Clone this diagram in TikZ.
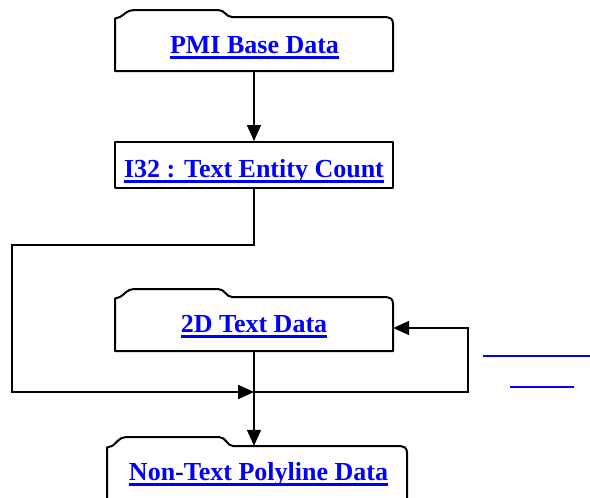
\documentclass[tikz,border=0pt]{standalone}
\usepackage{fontspec}
\setmainfont{Liberation Serif}
\usetikzlibrary{arrows.meta,calc}
\definecolor{linkblue}{RGB}{0,0,255}
\tikzset{
  boxline/.style={draw=black, line width=2pt, line join=round},
  boxbody/.style={rectangle, inner sep=0pt, draw=none},
  linktext/.style={inner sep=0pt, anchor=base, text=linkblue, font=\fontsize{26}{30}\selectfont\bfseries},
  uline/.style={draw=linkblue, line width=2.3pt},
  conn/.style={draw=black, line width=1.8pt},
  arr/.style={conn, -{Triangle[length=16pt,width=14pt]}},
}
% #1 name, #2 x1, #3 x2, #4 y tab top, #5 y body top, #6 y bottom, #7 x tab end
\newcommand\tabbox[7]{%
  \node[boxbody, minimum width={#3-#2}, minimum height={#6-#5}] (#1) at ({(#2+#3)/2},{(#5+#6)/2}) {};
  \draw[boxline] (#2,#6) -- (#2,#5+1.5) -- (#2+5,#5)
    .. controls (#2+9,#5-2) and (#2+12,#4) .. (#2+19,#4) -- (#7-14,#4)
    .. controls (#7-7,#4) and (#7-6,#5) .. (#7,#5) -- (#3-10,#5)
    .. controls (#3-2,#5) and (#3,#5+2) .. (#3,#5+7) -- (#3,#6) -- cycle;
}
\newcommand\linkul[1]{%
  \draw[uline] ($(#1.base west)+(0,4.5)$) -- ($(#1.base east)+(0,4.5)$);
}
\begin{document}
\begin{tikzpicture}[x=1pt,y=-1pt]
\useasboundingbox (0,0) rectangle (590,498);
\clip (0,0) rectangle (590,498);

\tabbox{pmi}{115}{393}{10}{17}{71}{232}
\node[boxbody, boxline, minimum width=278, minimum height=46] (i32) at (254,165) {};
\tabbox{twod}{115}{393}{289}{297}{351}{232}
\tabbox{nontext}{107}{407}{437}{446}{512}{233}

\node[linktext] (tpmi) at (254.5,53) {PMI Base Data};
\node[linktext] (ti32) at (254,177) {I32 : Text Entity Count};
\node[linktext] (t2d) at (254,332) {2D Text Data};
\node[linktext] (tnon) at (258.5,480) {Non-Text Polyline Data};
\linkul{tpmi}
\linkul{ti32}
\linkul{t2d}
\linkul{tnon}

\draw[uline] (483,356) -- (590,356);
\draw[uline] (510,387) -- (574,387);

\coordinate (j) at (254,392);
\coordinate (lt) at (12,245);
\coordinate (lp) at (468,328);
\draw[arr] (pmi.south) -- (i32.north);
\draw[arr] (i32.south) |- (lt) |- (j);
\draw[arr] (twod.south) -- (j |- nontext.north);
\draw[arr] (j) -| (lp) -- (lp -| twod.east);
\end{tikzpicture}
\end{document}
